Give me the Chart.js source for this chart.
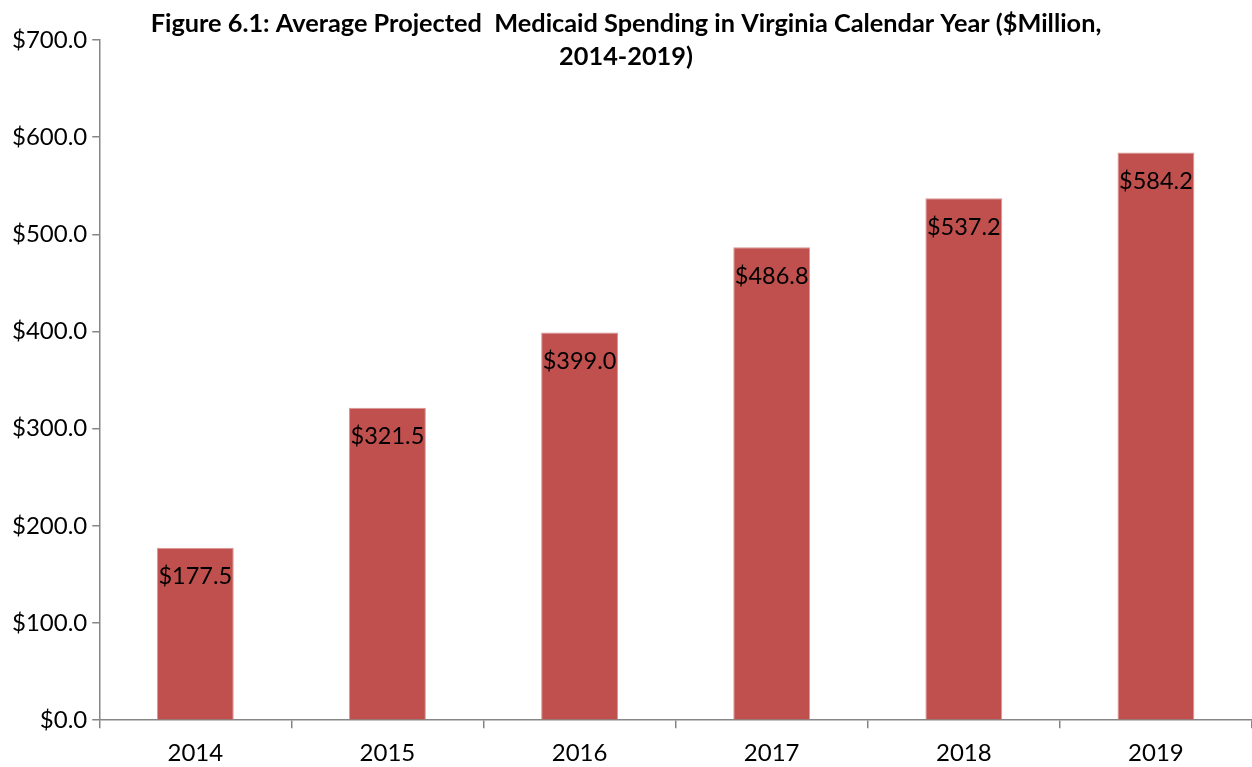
<!DOCTYPE html>
<html><head><meta charset="utf-8">
<script src="https://cdn.jsdelivr.net/npm/chart.js@4/dist/chart.umd.min.js"></script>
<style>html,body{margin:0;padding:0;background:#fff;}#wrap{width:1252px;height:767px;}</style>
</head><body><div id="wrap"><canvas id="c" width="1252" height="767"></canvas></div>
<script>
const categories = ["2014","2015","2016","2017","2018","2019"];
const spending = [177.5, 321.5, 399.0, 486.8, 537.2, 584.2];
const titleLines = ["Figure 6.1: Average Projected  Medicaid Spending in Virginia Calendar Year ($Million,", "2014-2019)"];
const FONT = "Lato, 'Open Sans', sans-serif";

const titlePlugin = {
  id: 'manualTitle',
  afterDraw(chart) {
    const ctx = chart.ctx;
    ctx.save();
    ctx.font = "bold 25.3px " + FONT;
    ctx.fillStyle = "#000";
    ctx.textAlign = "center";
    ctx.textBaseline = "middle";
    const cx = chart.width / 2;
    ctx.fillText(titleLines[0], cx, 24);
    ctx.fillText(titleLines[1], cx, 57);
    ctx.restore();
  }
};
const labelPlugin = {
  id: 'barLabels',
  afterDatasetsDraw(chart) {
    const ctx = chart.ctx;
    const meta = chart.getDatasetMeta(0);
    ctx.save();
    ctx.font = "23.5px " + FONT;
    ctx.fillStyle = "#000";
    ctx.textAlign = "center";
    ctx.textBaseline = "middle";
    meta.data.forEach((bar, i) => {
      ctx.fillText("$" + spending[i].toFixed(1), bar.x, bar.y + 29);
    });
    ctx.restore();
  }
};

new Chart(document.getElementById('c'), {
  type: 'bar',
  data: { labels: categories, datasets: [{ data: spending, backgroundColor: '#C0504D', borderColor: '#D99694', borderWidth: 1, categoryPercentage: 0.4, barPercentage: 1.0 }] },
  options: {
    responsive: false, animation: false,
    layout: { padding: { top: 40, right: 0, left: 7, bottom: -12 } },
    plugins: { legend: { display: false }, tooltip: { enabled: false }, title: { display: false } },
    scales: {
      x: {
        offset: true,
        grid: { display: true, drawOnChartArea: false, offset: true, tickLength: 8, color: '#868686', lineWidth: 1.5 },
        border: { color: '#868686', width: 1.5 },
        ticks: { font: { size: 24, family: FONT }, color: '#000', padding: 11 }
      },
      y: {
        min: 0, max: 700,
        grid: { display: true, drawOnChartArea: false, tickLength: 7, color: '#868686', lineWidth: 1.5 },
        border: { color: '#868686', width: 1.5 },
        ticks: { stepSize: 100, font: { size: 24, family: FONT }, color: '#000', padding: 5, callback: v => '$' + Number(v).toFixed(1) }
      }
    }
  },
  plugins: [titlePlugin, labelPlugin]
});
</script></body></html>
